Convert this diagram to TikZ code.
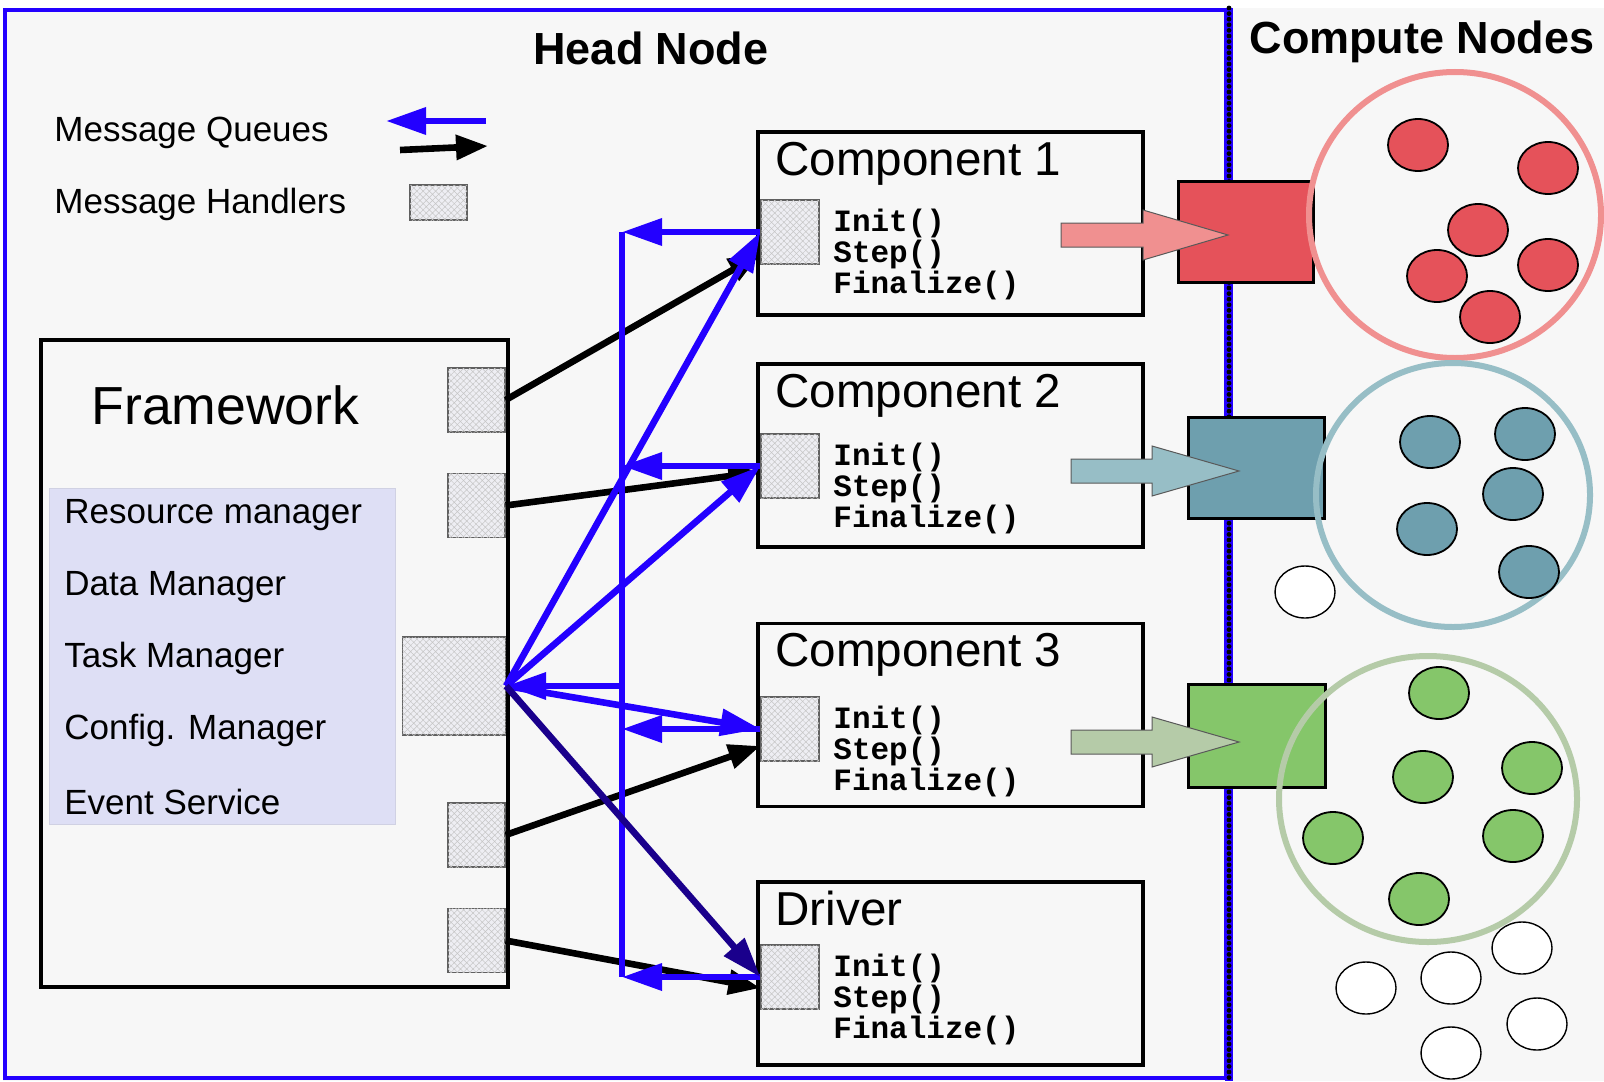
\documentclass[tikz,border=0pt]{standalone}
\usepackage{fontspec}
\setmainfont{Liberation Sans}
\newfontfamily\codefont{Liberation Mono}
\usetikzlibrary{arrows.meta,patterns.meta,calc}
\definecolor{qblue}{RGB}{35,0,255}
\definecolor{navy}{RGB}{26,0,140}
\definecolor{bggray}{RGB}{247,247,247}
\definecolor{lav}{RGB}{222,223,245}
\definecolor{hatchbg}{RGB}{238,238,243}
\definecolor{rdark}{RGB}{229,82,90}
\definecolor{rlight}{RGB}{240,144,144}
\definecolor{bdark}{RGB}{110,159,174}
\definecolor{blight}{RGB}{151,190,198}
\definecolor{gdark}{RGB}{133,198,106}
\definecolor{glight}{RGB}{181,203,168}
\begin{document}
\begin{tikzpicture}[x=0.5pt,y=-0.5pt,
  handler/.style={draw=gray!75!black,line width=0.6pt,fill=hatchbg,inner sep=0pt,
    minimum width=28.5pt,minimum height=32pt,
    postaction={pattern={Hatch[angle=45,distance=2.2pt,line width=0.25pt]},pattern color=gray!45}},
  comp/.style={draw,line width=1.8pt,fill=bggray,inner sep=0pt,minimum width=192.5pt,minimum height=91.5pt},
  cluster/.style={draw,line width=1.5pt,inner sep=0pt},
  title/.style={inner sep=0pt,font=\fontsize{22.5}{27}\selectfont\bfseries},
  legend/.style={inner sep=0pt,font=\fontsize{17.5}{21}\selectfont},
  comptitle/.style={inner sep=0pt,font=\fontsize{23.8}{28}\selectfont},
  methods/.style={inner sep=0pt,align=left,font=\codefont\bfseries\fontsize{15.5}{15.5}\selectfont},
  msg/.style={-{Triangle[length=16pt,width=12pt]},line width=3.3pt},
  queue/.style={qblue,-{Triangle[length=20pt,width=13pt]},line width=3.3pt},
  busline/.style={qblue,line width=3.3pt},
  cpu/.style={draw,line width=0.9pt,x radius=15pt,y radius=13pt}]
\useasboundingbox (0,0) rectangle (1604,1081);
\fill[white] (0,0) rectangle (1604,1081);
\fill[bggray] (3,8) rectangle (1604,1081);

% head node frame and divider
\draw[qblue,line width=2pt] (5,10) rectangle (1226,1078);
\draw[qblue,line width=4pt] (1229,8) -- (1229,1081);
\draw[line width=2.4pt,line cap=round,dash pattern=on 0pt off 2.8pt] (1229,8) -- (1229,1081);

\node[title] (headlbl) at (651,48) {Head Node};
\node[title] (complbl) at (1422,42) {Compute Nodes};

% legend
\node[legend,anchor=west] (mqlbl) at (54,133) {Message Queues};
\node[legend,anchor=west] (mhlbl) at (54,204) {Message Handlers};
\coordinate (qa) at (486,121);
\coordinate (qb) at (386,121);
\coordinate (ma) at (400,150);
\coordinate (mb) at (488,146);
\draw[queue] (qa) -- (qb);
\draw[msg] (ma) -- (mb);
\node[handler,minimum height=17.5pt] (hkey) at (438.5,202.5) {};

% framework
\node[draw,line width=1.8pt,fill=bggray,inner sep=0pt,minimum width=233.5pt,minimum height=323.5pt] (fw) at (274.5,663.5) {};
\node[inner sep=0pt,anchor=west,font=\fontsize{26.8}{31}\selectfont] (fwlbl) at (91,405) {Framework};
\node[fill=lav,draw=lav!85!gray,inner sep=0pt,minimum width=173pt,minimum height=168pt] (svc) at (222,656) {};
\foreach \t [count=\i] in {Resource manager,Data Manager,Task Manager,Config. Manager,Event Service}
  \node[legend,anchor=west] (s\i) at (64,443.3+71.7*\i) {\t};

\node[handler] (h1) at (476.5,400) {};
\node[handler] (h2) at (476.5,505.5) {};
\node[handler,minimum width=51.5pt,minimum height=49pt] (hq) at (454,686) {};
\node[handler] (h3) at (476.5,835) {};
\node[handler] (h4) at (476.5,940.5) {};

% components
\foreach \n/\y/\hy/\t in {1/223.5/232/Component 1,2/455.5/466/Component 2,3/715/729/Component 3,4/973.5/977/Driver}{
  \node[comp] (c\n) at (950.5,\y) {};
  \node[comptitle,anchor=base west] (t\n) at (775,\y-48.5) {\t};
  \node[handler,minimum width=29pt] (ch\n) at (790,\hy) {};
  \node[methods,anchor=west] (m\n) at (833,\hy+22) {Init()\\Step()\\Finalize()};
}

% compute nodes
\node[cluster,fill=rdark,minimum width=67.5pt,minimum height=50.5pt] (r1) at (1245.5,231.5) {};
\node[cluster,fill=bdark,minimum width=68pt,minimum height=50.5pt] (r2) at (1256,467.5) {};
\node[cluster,fill=gdark,minimum width=68.5pt,minimum height=51.5pt] (r3) at (1256.5,735.5) {};

\draw[rlight,line width=3pt] (1455,215) ellipse [x radius=73pt,y radius=71.5pt];
\draw[blight,line width=3pt] (1453,495) ellipse [x radius=68.5pt,y radius=66pt];
\draw[glight,line width=3pt] (1428,799) ellipse [x radius=74.5pt,y radius=71.5pt];

\foreach \x/\y in {1418/145,1548/168,1478/230,1437/276,1548/265,1490/317}
  \draw[cpu,fill=rdark] (\x,\y) ellipse [];
\foreach \x/\y in {1430/442,1525/434,1513/494,1427/529,1529/572}
  \draw[cpu,fill=bdark] (\x,\y) ellipse [];
\foreach \x/\y in {1439/693,1423/777,1532/768,1333/838,1513/836,1419/899}
  \draw[cpu,fill=gdark] (\x,\y) ellipse [];
\foreach \x/\y in {1305/592,1522/948,1451/978,1366/988,1537/1024,1451/1053}
  \draw[cpu,fill=white,line width=0.7pt] (\x,\y) ellipse [];

\foreach \y/\xa/\xb/\xc/\col in {235/1061/1143/1228/rlight,471/1071/1152/1239/blight,742/1071/1152/1239/glight}
  \filldraw[fill=\col,draw=black!65,line width=0.5pt] (\xa,\y-12) -- (\xb,\y-12) -- (\xb,\y-25) -- (\xc,\y)
    -- (\xb,\y+25) -- (\xb,\y+12) -- (\xa,\y+12) -- cycle;

% message arrows
\draw[msg] (h1.east) -- ($(ch1.west)+(0,22)$);
\draw[msg] (h2.east) -- ($(ch2.west)+(0,6)$);
\draw[msg] (h3.east) -- ($(ch3.west)+(0,17)$);
\draw[msg] (h4.east) -- ($(ch4.west)+(0,11)$);

% queues
\coordinate (bus) at (622,0);
\draw[busline] (ch1.west -| bus) -- (ch4.west -| bus);
\foreach \n in {1,...,4}
  \draw[queue] (ch\n.west) -- (ch\n.west -| bus);
\draw[queue] (hq.east -| bus) -- (hq.east);
\foreach \n in {1,2,3}
  \draw[queue] (hq.east) -- (ch\n.west);
\draw[queue,navy] (hq.east) -- (ch4.west);
\end{tikzpicture}
\end{document}
